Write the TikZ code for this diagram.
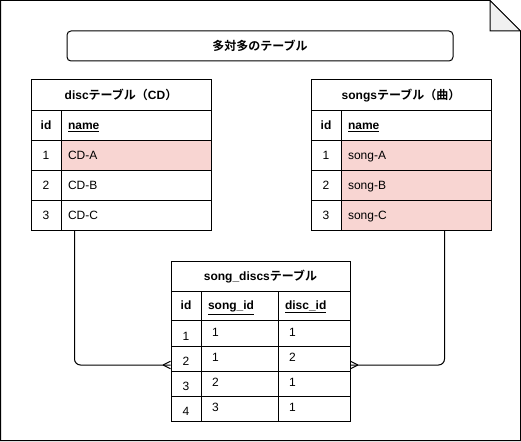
\documentclass[tikz,border=0pt]{standalone}
\usepackage{fontspec}
\setmainfont{Liberation Sans}
\newfontfamily\jp{Noto Sans CJK JP}[BoldFont={Noto Sans CJK JP Bold}]
\usetikzlibrary{calc}
\definecolor{pinkfill}{HTML}{F8D5D2}
\definecolor{foldgray}{HTML}{F0F0F0}
\newcommand\tcell[7]{\node[#6, minimum width={(#4-#2)*1pt}, minimum height={(#5-#3)*1pt}] (#1) at ({(#2+#4)/2},{(#3+#5)/2}) {#7};}
\tikzset{
  basefont/.style={font=\fontsize{12}{14}\selectfont},
  cellc/.style={draw=black, line width=1pt, inner sep=0pt, text height=8.6pt, text depth=0pt, basefont, align=center},
  celll/.style={cellc, inner xsep=7pt, text width=#1, align=left},
  hdr/.style={cellc, font=\fontsize{12}{14}\selectfont\bfseries},
  hdrl/.style={celll=#1, font=\fontsize{12}{14}\selectfont\bfseries},
  pinkc/.style={fill=pinkfill},
  conn/.style={draw=black, line width=1pt, rounded corners=6pt},
  tipl/.style={draw=black, line width=1pt},
  titlebox/.style={draw=black, line width=1pt, rounded corners=4pt, inner sep=0pt, font=\fontsize{12}{14}\selectfont\bfseries\jp},
}
\begin{document}
\begin{tikzpicture}[x=1pt,y=-1pt]
\useasboundingbox (0,0) rectangle (521,441);
% page outline with folded corner
\draw[line width=1pt] (0.5,0.5) -- (490,0.5) -- (520.5,31) -- (520.5,440.5) -- (0.5,440.5) -- cycle;
\draw[line width=1pt, fill=foldgray] (490,0.5) -- (490,31) -- (520.5,31) -- cycle;
% title
\node[titlebox, minimum width=386pt, minimum height=30pt] (title) at (260,46) {多対多のテーブル};
% disc table
\tcell{d-h}{31}{80}{211}{110}{hdr}{disc{\jp テーブル（}CD{\jp ）}}
\tcell{d-c-id}{31}{110}{61}{140}{hdr}{id}
\tcell{d-c-name}{61}{110}{211}{140}{hdrl=136pt}{\underline{name}}
\tcell{d-1-id}{31}{140}{61}{170}{cellc}{1}
\tcell{d-1-name}{61}{140}{211}{170}{celll=136pt, pinkc}{CD-A}
\tcell{d-2-id}{31}{170}{61}{200}{cellc}{2}
\tcell{d-2-name}{61}{170}{211}{200}{celll=136pt}{CD-B}
\tcell{d-3-id}{31}{200}{61}{230}{cellc}{3}
\tcell{d-3-name}{61}{200}{211}{230}{celll=136pt}{CD-C}
% songs table
\tcell{s-h}{311}{80}{491}{110}{hdr}{songs{\jp テーブル（曲）}}
\tcell{s-c-id}{311}{110}{341}{140}{hdr}{id}
\tcell{s-c-name}{341}{110}{491}{140}{hdrl=136pt}{\underline{name}}
\tcell{s-1-id}{311}{140}{341}{170}{cellc}{1}
\tcell{s-1-name}{341}{140}{491}{170}{celll=136pt, pinkc}{song-A}
\tcell{s-2-id}{311}{170}{341}{200}{cellc}{2}
\tcell{s-2-name}{341}{170}{491}{200}{celll=136pt, pinkc}{song-B}
\tcell{s-3-id}{311}{200}{341}{230}{cellc}{3}
\tcell{s-3-name}{341}{200}{491}{230}{celll=136pt, pinkc}{song-C}
% song_discs table
\tcell{sd-h}{171}{261}{350}{291}{hdr}{song\_discs{\jp テーブル}}
\tcell{sd-c-id}{171}{291}{201}{320}{hdr}{id}
\tcell{sd-c-song}{201}{291}{278}{320}{hdrl=63pt}{\underline{song\_id}}
\tcell{sd-c-dsc}{278}{291}{350}{320}{hdrl=58pt}{\underline{disc\_id}}
\tcell{sd-1-id}{171}{320}{201}{346}{cellc}{\raisebox{-3pt}{1}}
\tcell{sd-1-song}{201}{320}{278}{346}{celll=55pt, inner xsep=11pt}{\raisebox{1pt}{1}}
\tcell{sd-1-dsc}{278}{320}{350}{346}{celll=50pt, inner xsep=11pt}{\raisebox{1pt}{1}}
\tcell{sd-2-id}{171}{346}{201}{371}{cellc}{\raisebox{-3pt}{2}}
\tcell{sd-2-song}{201}{346}{278}{371}{celll=55pt, inner xsep=11pt}{\raisebox{1pt}{1}}
\tcell{sd-2-dsc}{278}{346}{350}{371}{celll=50pt, inner xsep=11pt}{\raisebox{1pt}{2}}
\tcell{sd-3-id}{171}{371}{201}{396}{cellc}{\raisebox{-3pt}{3}}
\tcell{sd-3-song}{201}{371}{278}{396}{celll=55pt, inner xsep=11pt}{\raisebox{1pt}{2}}
\tcell{sd-3-dsc}{278}{371}{350}{396}{celll=50pt, inner xsep=11pt}{\raisebox{1pt}{1}}
\tcell{sd-4-id}{171}{396}{201}{421}{cellc}{\raisebox{-3pt}{4}}
\tcell{sd-4-song}{201}{396}{278}{421}{celll=55pt, inner xsep=11pt}{\raisebox{1pt}{3}}
\tcell{sd-4-dsc}{278}{396}{350}{421}{celll=50pt, inner xsep=11pt}{\raisebox{1pt}{1}}
% connectors
\coordinate (la) at ($(d-3-name.south west)+(14,0)$);
\coordinate (lb) at ($(sd-2-id.west)+(0,6.5)$);
\draw[conn] (la) |- (lb);
\draw[tipl] ($(lb)+(-7.5,0)$) -- ($(lb)+(0,-3.8)$) ($(lb)+(-7.5,0)$) -- ($(lb)+(0,3.8)$);
\coordinate (ra) at ($(s-3-name.south west)+(104,0)$);
\coordinate (rb) at ($(sd-2-dsc.east)+(0,6.5)$);
\draw[conn] (ra) |- (rb);
\draw[tipl] ($(rb)+(7.5,0)$) -- ($(rb)+(0,-3.8)$) ($(rb)+(7.5,0)$) -- ($(rb)+(0,3.8)$);
\end{tikzpicture}
\end{document}
